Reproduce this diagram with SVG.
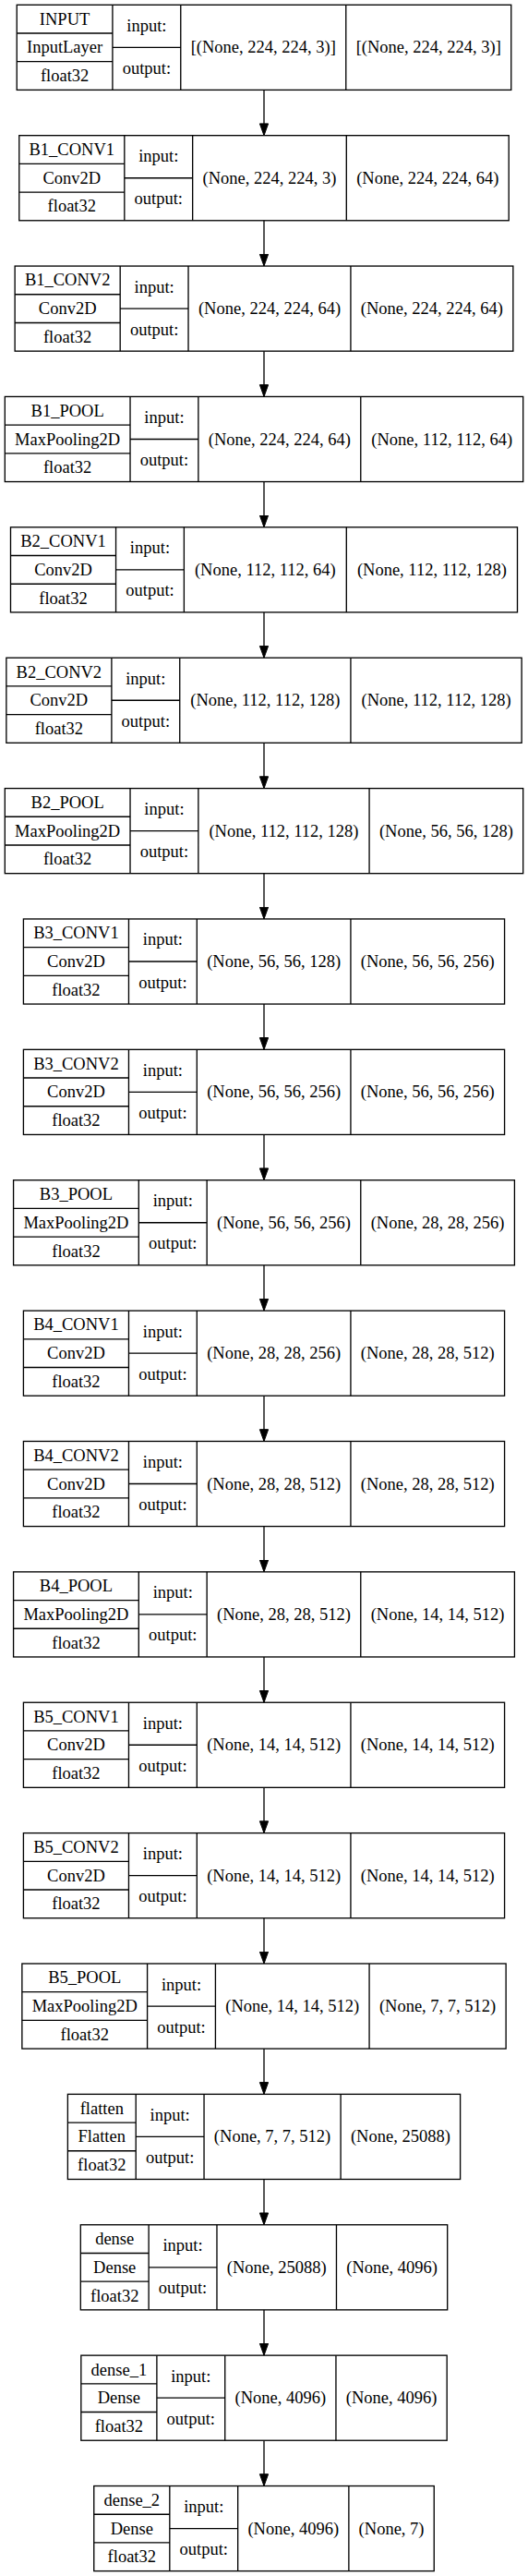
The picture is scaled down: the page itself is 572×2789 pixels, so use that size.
<svg xmlns="http://www.w3.org/2000/svg" width="572" height="2789" viewBox="0 0 572 2789">
<style>
.b{fill:#fff;stroke:#000;stroke-width:1.33}
.l{fill:none;stroke:#000;stroke-width:1.33}
text{font-family:"Liberation Serif","Times New Roman",serif;font-size:18.5px;text-anchor:middle;fill:#000}
</style>
<defs>
<marker id="ah" markerUnits="userSpaceOnUse" markerWidth="15" markerHeight="11" refX="13.3" refY="5" orient="auto">
<path d="M0.5,0.4L13.3,5L0.5,9.6z" fill="#000" stroke="#000" stroke-width="1"/>
</marker>
</defs>
<rect width="572" height="2789" fill="#fff"/>
<g id="connectors">
<path class="l" marker-end="url(#ah)" d="M286,97.4V146.68"/>
<path class="l" marker-end="url(#ah)" d="M286,238.78V288.06"/>
<path class="l" marker-end="url(#ah)" d="M286,380.16V429.44"/>
<path class="l" marker-end="url(#ah)" d="M286,521.54V570.82"/>
<path class="l" marker-end="url(#ah)" d="M286,662.92V712.2"/>
<path class="l" marker-end="url(#ah)" d="M286,804.3V853.58"/>
<path class="l" marker-end="url(#ah)" d="M286,945.68V994.96"/>
<path class="l" marker-end="url(#ah)" d="M286,1087.06V1136.34"/>
<path class="l" marker-end="url(#ah)" d="M286,1228.44V1277.72"/>
<path class="l" marker-end="url(#ah)" d="M286,1369.82V1419.1"/>
<path class="l" marker-end="url(#ah)" d="M286,1511.2V1560.48"/>
<path class="l" marker-end="url(#ah)" d="M286,1652.58V1701.86"/>
<path class="l" marker-end="url(#ah)" d="M286,1793.96V1843.24"/>
<path class="l" marker-end="url(#ah)" d="M286,1935.34V1984.62"/>
<path class="l" marker-end="url(#ah)" d="M286,2076.72V2126"/>
<path class="l" marker-end="url(#ah)" d="M286,2218.1V2267.38"/>
<path class="l" marker-end="url(#ah)" d="M286,2359.48V2408.76"/>
<path class="l" marker-end="url(#ah)" d="M286,2500.86V2550.14"/>
<path class="l" marker-end="url(#ah)" d="M286,2642.24V2691.52"/>
</g>

<g id="INPUT" transform="translate(18.22,5.3)">
<rect class="b" width="535.55" height="92.1"/>
<path class="l" d="M103.71,0V92.1M177.55,0V92.1M356.55,0V92.1M0,30.7H103.71M0,61.4H103.71M103.71,46.05H177.55"/>
<text x="51.86" y="21.4">INPUT</text><text x="51.86" y="52.1">InputLayer</text><text x="51.86" y="82.8">float32</text>
<text x="140.63" y="28.5">input:</text><text x="140.63" y="74.6">output:</text>
<text x="267.05" y="52.1">[(None, 224, 224, 3)]</text><text x="446.05" y="52.1">[(None, 224, 224, 3)]</text>
</g>

<g id="B1_CONV1" transform="translate(20.77,146.68)">
<rect class="b" width="530.45" height="92.1"/>
<path class="l" d="M114.05,0V92.1M187.89,0V92.1M354.53,0V92.1M0,30.7H114.05M0,61.4H114.05M114.05,46.05H187.89"/>
<text x="57.03" y="21.4">B1_CONV1</text><text x="57.03" y="52.1">Conv2D</text><text x="57.03" y="82.8">float32</text>
<text x="150.97" y="28.5">input:</text><text x="150.97" y="74.6">output:</text>
<text x="271.21" y="52.1">(None, 224, 224, 3)</text><text x="442.49" y="52.1">(None, 224, 224, 64)</text>
</g>

<g id="B1_CONV2" transform="translate(16.13,288.06)">
<rect class="b" width="539.73" height="92.1"/>
<path class="l" d="M114.05,0V92.1M187.89,0V92.1M363.81,0V92.1M0,30.7H114.05M0,61.4H114.05M114.05,46.05H187.89"/>
<text x="57.03" y="21.4">B1_CONV2</text><text x="57.03" y="52.1">Conv2D</text><text x="57.03" y="82.8">float32</text>
<text x="150.97" y="28.5">input:</text><text x="150.97" y="74.6">output:</text>
<text x="275.85" y="52.1">(None, 224, 224, 64)</text><text x="451.77" y="52.1">(None, 224, 224, 64)</text>
</g>

<g id="B1_POOL" transform="translate(5.3,429.44)">
<rect class="b" width="561.4" height="92.1"/>
<path class="l" d="M135.72,0V92.1M209.56,0V92.1M385.48,0V92.1M0,30.7H135.72M0,61.4H135.72M135.72,46.05H209.56"/>
<text x="67.86" y="21.4">B1_POOL</text><text x="67.86" y="52.1">MaxPooling2D</text><text x="67.86" y="82.8">float32</text>
<text x="172.64" y="28.5">input:</text><text x="172.64" y="74.6">output:</text>
<text x="297.52" y="52.1">(None, 224, 224, 64)</text><text x="473.44" y="52.1">(None, 112, 112, 64)</text>
</g>

<g id="B2_CONV1" transform="translate(11.49,570.82)">
<rect class="b" width="549.01" height="92.1"/>
<path class="l" d="M114.05,0V92.1M187.89,0V92.1M363.81,0V92.1M0,30.7H114.05M0,61.4H114.05M114.05,46.05H187.89"/>
<text x="57.03" y="21.4">B2_CONV1</text><text x="57.03" y="52.1">Conv2D</text><text x="57.03" y="82.8">float32</text>
<text x="150.97" y="28.5">input:</text><text x="150.97" y="74.6">output:</text>
<text x="275.85" y="52.1">(None, 112, 112, 64)</text><text x="456.41" y="52.1">(None, 112, 112, 128)</text>
</g>

<g id="B2_CONV2" transform="translate(6.85,712.2)">
<rect class="b" width="558.29" height="92.1"/>
<path class="l" d="M114.05,0V92.1M187.89,0V92.1M373.09,0V92.1M0,30.7H114.05M0,61.4H114.05M114.05,46.05H187.89"/>
<text x="57.03" y="21.4">B2_CONV2</text><text x="57.03" y="52.1">Conv2D</text><text x="57.03" y="82.8">float32</text>
<text x="150.97" y="28.5">input:</text><text x="150.97" y="74.6">output:</text>
<text x="280.49" y="52.1">(None, 112, 112, 128)</text><text x="465.69" y="52.1">(None, 112, 112, 128)</text>
</g>

<g id="B2_POOL" transform="translate(5.3,853.58)">
<rect class="b" width="561.4" height="92.1"/>
<path class="l" d="M135.72,0V92.1M209.56,0V92.1M394.76,0V92.1M0,30.7H135.72M0,61.4H135.72M135.72,46.05H209.56"/>
<text x="67.86" y="21.4">B2_POOL</text><text x="67.86" y="52.1">MaxPooling2D</text><text x="67.86" y="82.8">float32</text>
<text x="172.64" y="28.5">input:</text><text x="172.64" y="74.6">output:</text>
<text x="302.16" y="52.1">(None, 112, 112, 128)</text><text x="478.08" y="52.1">(None, 56, 56, 128)</text>
</g>

<g id="B3_CONV1" transform="translate(25.41,994.96)">
<rect class="b" width="521.17" height="92.1"/>
<path class="l" d="M114.05,0V92.1M187.89,0V92.1M354.53,0V92.1M0,30.7H114.05M0,61.4H114.05M114.05,46.05H187.89"/>
<text x="57.03" y="21.4">B3_CONV1</text><text x="57.03" y="52.1">Conv2D</text><text x="57.03" y="82.8">float32</text>
<text x="150.97" y="28.5">input:</text><text x="150.97" y="74.6">output:</text>
<text x="271.21" y="52.1">(None, 56, 56, 128)</text><text x="437.85" y="52.1">(None, 56, 56, 256)</text>
</g>

<g id="B3_CONV2" transform="translate(25.41,1136.34)">
<rect class="b" width="521.17" height="92.1"/>
<path class="l" d="M114.05,0V92.1M187.89,0V92.1M354.53,0V92.1M0,30.7H114.05M0,61.4H114.05M114.05,46.05H187.89"/>
<text x="57.03" y="21.4">B3_CONV2</text><text x="57.03" y="52.1">Conv2D</text><text x="57.03" y="82.8">float32</text>
<text x="150.97" y="28.5">input:</text><text x="150.97" y="74.6">output:</text>
<text x="271.21" y="52.1">(None, 56, 56, 256)</text><text x="437.85" y="52.1">(None, 56, 56, 256)</text>
</g>

<g id="B3_POOL" transform="translate(14.58,1277.72)">
<rect class="b" width="542.84" height="92.1"/>
<path class="l" d="M135.72,0V92.1M209.56,0V92.1M376.2,0V92.1M0,30.7H135.72M0,61.4H135.72M135.72,46.05H209.56"/>
<text x="67.86" y="21.4">B3_POOL</text><text x="67.86" y="52.1">MaxPooling2D</text><text x="67.86" y="82.8">float32</text>
<text x="172.64" y="28.5">input:</text><text x="172.64" y="74.6">output:</text>
<text x="292.88" y="52.1">(None, 56, 56, 256)</text><text x="459.52" y="52.1">(None, 28, 28, 256)</text>
</g>

<g id="B4_CONV1" transform="translate(25.41,1419.1)">
<rect class="b" width="521.17" height="92.1"/>
<path class="l" d="M114.05,0V92.1M187.89,0V92.1M354.53,0V92.1M0,30.7H114.05M0,61.4H114.05M114.05,46.05H187.89"/>
<text x="57.03" y="21.4">B4_CONV1</text><text x="57.03" y="52.1">Conv2D</text><text x="57.03" y="82.8">float32</text>
<text x="150.97" y="28.5">input:</text><text x="150.97" y="74.6">output:</text>
<text x="271.21" y="52.1">(None, 28, 28, 256)</text><text x="437.85" y="52.1">(None, 28, 28, 512)</text>
</g>

<g id="B4_CONV2" transform="translate(25.41,1560.48)">
<rect class="b" width="521.17" height="92.1"/>
<path class="l" d="M114.05,0V92.1M187.89,0V92.1M354.53,0V92.1M0,30.7H114.05M0,61.4H114.05M114.05,46.05H187.89"/>
<text x="57.03" y="21.4">B4_CONV2</text><text x="57.03" y="52.1">Conv2D</text><text x="57.03" y="82.8">float32</text>
<text x="150.97" y="28.5">input:</text><text x="150.97" y="74.6">output:</text>
<text x="271.21" y="52.1">(None, 28, 28, 512)</text><text x="437.85" y="52.1">(None, 28, 28, 512)</text>
</g>

<g id="B4_POOL" transform="translate(14.58,1701.86)">
<rect class="b" width="542.84" height="92.1"/>
<path class="l" d="M135.72,0V92.1M209.56,0V92.1M376.2,0V92.1M0,30.7H135.72M0,61.4H135.72M135.72,46.05H209.56"/>
<text x="67.86" y="21.4">B4_POOL</text><text x="67.86" y="52.1">MaxPooling2D</text><text x="67.86" y="82.8">float32</text>
<text x="172.64" y="28.5">input:</text><text x="172.64" y="74.6">output:</text>
<text x="292.88" y="52.1">(None, 28, 28, 512)</text><text x="459.52" y="52.1">(None, 14, 14, 512)</text>
</g>

<g id="B5_CONV1" transform="translate(25.41,1843.24)">
<rect class="b" width="521.17" height="92.1"/>
<path class="l" d="M114.05,0V92.1M187.89,0V92.1M354.53,0V92.1M0,30.7H114.05M0,61.4H114.05M114.05,46.05H187.89"/>
<text x="57.03" y="21.4">B5_CONV1</text><text x="57.03" y="52.1">Conv2D</text><text x="57.03" y="82.8">float32</text>
<text x="150.97" y="28.5">input:</text><text x="150.97" y="74.6">output:</text>
<text x="271.21" y="52.1">(None, 14, 14, 512)</text><text x="437.85" y="52.1">(None, 14, 14, 512)</text>
</g>

<g id="B5_CONV2" transform="translate(25.41,1984.62)">
<rect class="b" width="521.17" height="92.1"/>
<path class="l" d="M114.05,0V92.1M187.89,0V92.1M354.53,0V92.1M0,30.7H114.05M0,61.4H114.05M114.05,46.05H187.89"/>
<text x="57.03" y="21.4">B5_CONV2</text><text x="57.03" y="52.1">Conv2D</text><text x="57.03" y="82.8">float32</text>
<text x="150.97" y="28.5">input:</text><text x="150.97" y="74.6">output:</text>
<text x="271.21" y="52.1">(None, 14, 14, 512)</text><text x="437.85" y="52.1">(None, 14, 14, 512)</text>
</g>

<g id="B5_POOL" transform="translate(23.86,2126)">
<rect class="b" width="524.27" height="92.1"/>
<path class="l" d="M135.72,0V92.1M209.56,0V92.1M376.2,0V92.1M0,30.7H135.72M0,61.4H135.72M135.72,46.05H209.56"/>
<text x="67.86" y="21.4">B5_POOL</text><text x="67.86" y="52.1">MaxPooling2D</text><text x="67.86" y="82.8">float32</text>
<text x="172.64" y="28.5">input:</text><text x="172.64" y="74.6">output:</text>
<text x="292.88" y="52.1">(None, 14, 14, 512)</text><text x="450.24" y="52.1">(None, 7, 7, 512)</text>
</g>

<g id="flatten" transform="translate(73.38,2267.38)">
<rect class="b" width="425.23" height="92.1"/>
<path class="l" d="M73.82,0V92.1M147.66,0V92.1M295.73,0V92.1M0,30.7H73.82M0,61.4H73.82M73.82,46.05H147.66"/>
<text x="36.91" y="21.4">flatten</text><text x="36.91" y="52.1">Flatten</text><text x="36.91" y="82.8">float32</text>
<text x="110.74" y="28.5">input:</text><text x="110.74" y="74.6">output:</text>
<text x="221.7" y="52.1">(None, 7, 7, 512)</text><text x="360.48" y="52.1">(None, 25088)</text>
</g>

<g id="dense" transform="translate(87.31,2408.76)">
<rect class="b" width="397.38" height="92.1"/>
<path class="l" d="M73.82,0V92.1M147.66,0V92.1M277.16,0V92.1M0,30.7H73.82M0,61.4H73.82M73.82,46.05H147.66"/>
<text x="36.91" y="21.4">dense</text><text x="36.91" y="52.1">Dense</text><text x="36.91" y="82.8">float32</text>
<text x="110.74" y="28.5">input:</text><text x="110.74" y="74.6">output:</text>
<text x="212.41" y="52.1">(None, 25088)</text><text x="337.27" y="52.1">(None, 4096)</text>
</g>

<g id="dense_1" transform="translate(87.82,2550.14)">
<rect class="b" width="396.35" height="92.1"/>
<path class="l" d="M82.07,0V92.1M155.91,0V92.1M276.13,0V92.1M0,30.7H82.07M0,61.4H82.07M82.07,46.05H155.91"/>
<text x="41.04" y="21.4">dense_1</text><text x="41.04" y="52.1">Dense</text><text x="41.04" y="82.8">float32</text>
<text x="118.99" y="28.5">input:</text><text x="118.99" y="74.6">output:</text>
<text x="216.02" y="52.1">(None, 4096)</text><text x="336.24" y="52.1">(None, 4096)</text>
</g>

<g id="dense_2" transform="translate(101.75,2691.52)">
<rect class="b" width="368.5" height="92.1"/>
<path class="l" d="M82.07,0V92.1M155.91,0V92.1M276.13,0V92.1M0,30.7H82.07M0,61.4H82.07M82.07,46.05H155.91"/>
<text x="41.04" y="21.4">dense_2</text><text x="41.04" y="52.1">Dense</text><text x="41.04" y="82.8">float32</text>
<text x="118.99" y="28.5">input:</text><text x="118.99" y="74.6">output:</text>
<text x="216.02" y="52.1">(None, 4096)</text><text x="322.32" y="52.1">(None, 7)</text>
</g>
</svg>
